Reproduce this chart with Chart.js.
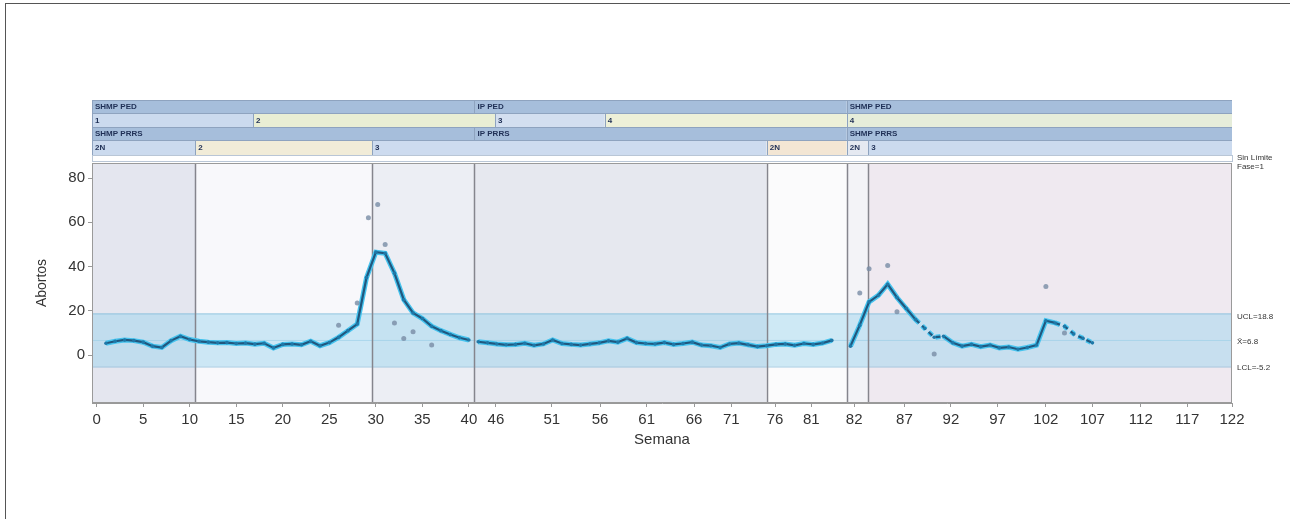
<!DOCTYPE html>
<html>
<head>
<meta charset="utf-8">
<script src="https://cdn.jsdelivr.net/npm/chart.js@4.4.1/dist/chart.umd.min.js"></script>
<style>
html, body { margin: 0; padding: 0; background: #fff; }
#wrap { position: absolute; left: 0; top: 0; width: 1290px; height: 519px; overflow: hidden; }
#frame { position: absolute; left: 5px; top: 3px; width: 1300px; height: 530px; border-top: 1px solid #555; border-left: 1px solid #555; }
</style>
</head>
<body>
<div id="wrap">
  <canvas id="myChart" width="1290" height="519"></canvas>
  <div id="frame"></div>
</div>
<script>
// data (x = plotted week position, y = abortos)
var phase1Start = 1;
var phase1 = [5.3,6.2,6.8,6.5,5.8,4.0,3.4,6.5,8.5,7.0,6.2,5.8,5.5,5.6,5.2,5.4,4.9,5.3,3.2,4.8,
              5.0,4.6,6.2,4.2,5.6,8.0,11.0,14.0,35.0,46.5,46.0,37.0,25.0,19.0,16.5,13.0,11.0,9.3,7.8,6.8];
var phase2Start = 41;
var phase2 = [6.0,5.5,5.0,4.6,4.8,5.3,4.4,5.0,6.8,5.2,4.8,4.5,5.0,5.5,6.4,5.8,7.5,5.6,5.2,5.0,
              5.6,4.8,5.2,5.8,4.5,4.2,3.4,5.0,5.4,4.6,3.8,4.2,4.8,5.0,4.4,5.2,4.8,5.4,6.6];
var phase3Start = 81;
var phase3 = [4.0,13.5,24.0,27.0,32.0,26.0,21.0,16.0,12.0,8.0,8.5,5.5,4.0,4.8,3.8,4.5,3.2,3.6,2.6,3.4,
              4.5,15.5,14.5,13.0,9.5,7.5,5.5];
var outlierX = [26,28,29.2,30.2,31,32,33,34,36,82,83,85,86,90,102,104];
var outlierY = [13.5,23.5,62,68,50,14.5,7.5,10.5,4.5,28,39,40.5,19.5,0.5,31,10];

var ucl = 18.8, avg = 6.8, lcl = -5.2;
var yMin = -21.7, yMax = 86.8;
var yTicks = [0,20,40,60,80];
var xMin = -0.5, xMax = 122;
var xTickPos = [0,5,10,15,20,25,30,35,40,42.9,48.9,54.1,59.1,64.2,68.2,72.9,76.8,81.4,86.8,91.8,96.8,102,107,112.2,117.2,122];
var xTickLabels = ['0','5','10','15','20','25','30','35','40','46','51','56','61','66','71','76','81','82','87','92','97','102','107','112','117','122'];

// phase changes (x positions) and header labels
var changePos = [10.6,29.6,40.6,72,80.6,82.9];
var row1Labels = ['SHMP PED','IP PED','SHMP PED'];
var row3Labels = ['SHMP PRRS','IP PRRS','SHMP PRRS'];
var mainStarts = [-0.5,40.6,80.6];
var row2Labels = ['1','2','3','4','4'];
var row2Starts = [-0.5,16.8,42.8,54.6,80.6];
var row4Labels = ['2N','2','3','2N','2N','3'];
var row4Starts = [-0.5,10.6,29.6,72,80.6,82.9];
var limitLabels = ['UCL=18.8','X\u0304=6.8','LCL=-5.2'];
var cornerLabels = ['Sin L\u00edmite','Fase=1'];

function toPoints(start, vals) {
  return vals.map(function(v, i) { return { x: start + i, y: v }; });
}
function buildLine() {
  return toPoints(phase1Start, phase1)
    .concat([{ x: 40.6, y: null }], toPoints(phase2Start, phase2))
    .concat([{ x: 80.5, y: null }], toPoints(phase3Start, phase3));
}
var outlierData = outlierX.map(function(x, i) { return { x: x, y: outlierY[i] }; });

function dashed(ctx) {
  var x = ctx.p0.parsed.x;
  return ((x >= 88 && x < 91) || (x >= 103 && x < 107)) ? [5, 4] : undefined;
}

var decor = {
  id: 'decor',
  beforeDatasetsDraw: function(chart) {
    var c = chart.ctx, a = chart.chartArea, xs = chart.scales.x, ys = chart.scales.y;
    var bgCols = ['#e4e6ef','#f8f8fb','#eceef4','#e6e8ef','#fbfbfc','#f3f3f7','#efe9f0'];
    var edges = [xMin].concat(changePos, [xMax]);
    c.save();
    for (var i = 0; i < edges.length - 1; i++) {
      var x0 = xs.getPixelForValue(edges[i]), x1 = xs.getPixelForValue(edges[i + 1]);
      c.fillStyle = bgCols[i];
      c.fillRect(x0, a.top, x1 - x0, a.bottom - a.top);
    }
    var yu = ys.getPixelForValue(ucl), yl = ys.getPixelForValue(lcl), ya = ys.getPixelForValue(avg);
    c.fillStyle = 'rgba(150,210,238,0.45)';
    c.fillRect(a.left, yu, a.right - a.left, yl - yu);
    c.strokeStyle = 'rgba(110,175,210,0.6)';
    c.lineWidth = 1;
    [yu, yl].forEach(function(y) {
      c.beginPath(); c.moveTo(a.left, y + 0.5); c.lineTo(a.right, y + 0.5); c.stroke();
    });
    c.strokeStyle = 'rgba(150,205,230,0.6)';
    c.beginPath(); c.moveTo(a.left, ya + 0.5); c.lineTo(a.right, ya + 0.5); c.stroke();
    c.strokeStyle = '#85858d';
    c.lineWidth = 1.5;
    changePos.forEach(function(p) {
      var x = Math.round(xs.getPixelForValue(p)) + 0.5;
      c.beginPath(); c.moveTo(x, a.top); c.lineTo(x, a.bottom); c.stroke();
    });
    c.restore();
  },
  afterDraw: function(chart) {
    var c = chart.ctx, a = chart.chartArea, xs = chart.scales.x, ys = chart.scales.y;
    var right = a.right;
    c.save();
    // header rows
    var rows = [
      { top: a.top - 63, h: 13, starts: mainStarts, labels: row1Labels, cols: ['#a6bedb','#a6bedb','#a6bedb'] },
      { top: a.top - 50, h: 14, starts: row2Starts, labels: row2Labels, cols: ['#cbdaee','#e9eed4','#d3dff0','#edf0d8','#e6edda'] },
      { top: a.top - 36, h: 13, starts: mainStarts, labels: row3Labels, cols: ['#a6bedb','#a6bedb','#a6bedb'] },
      { top: a.top - 23, h: 15, starts: row4Starts, labels: row4Labels, cols: ['#cbdaee','#f1ecd8','#cddbef','#f3e6d4','#e5e9f1','#cbdaee'] }
    ];
    c.font = 'bold 8px "Liberation Sans", Arial, sans-serif';
    c.textBaseline = 'middle';
    c.textAlign = 'left';
    rows.forEach(function(r) {
      for (var i = 0; i < r.starts.length; i++) {
        var x0 = xs.getPixelForValue(r.starts[i]);
        var x1 = i + 1 < r.starts.length ? xs.getPixelForValue(r.starts[i + 1]) : right;
        c.fillStyle = r.cols[i];
        c.fillRect(x0, r.top, x1 - x0, r.h);
        c.strokeStyle = '#8ea3bf';
        c.lineWidth = 1;
        c.beginPath(); c.moveTo(Math.round(x0) + 0.5, r.top); c.lineTo(Math.round(x0) + 0.5, r.top + r.h); c.stroke();
        c.fillStyle = '#1f2f55';
        c.fillText(r.labels[i], x0 + 3, r.top + r.h / 2 + 0.5);
      }
      c.strokeStyle = '#8ea3bf';
      c.beginPath(); c.moveTo(a.left, r.top + 0.5); c.lineTo(right, r.top + 0.5); c.stroke();
    });
    c.strokeStyle = '#b9c6d6';
    c.strokeRect(a.left + 0.5, a.top - 8 + 0.5, right - a.left, 6);
    // right-side labels
    c.font = '8px "Liberation Sans", Arial, sans-serif';
    c.fillStyle = '#333';
    c.fillText(cornerLabels[0], right + 5, a.top - 5);
    c.fillText(cornerLabels[1], right + 5, a.top + 4);
    c.fillText(limitLabels[0], right + 5, ys.getPixelForValue(ucl) + 3);
    c.fillText(limitLabels[1], right + 5, ys.getPixelForValue(avg) + 2);
    c.fillText(limitLabels[2], right + 5, ys.getPixelForValue(lcl) + 1);
    // plot border
    c.strokeStyle = '#9a9a9a';
    c.lineWidth = 1;
    c.strokeRect(a.left + 0.5, a.top + 0.5, a.right - a.left - 1, a.bottom - a.top - 1);
    c.restore();
  }
};

var ctx = document.getElementById('myChart').getContext('2d');
var myChart = new Chart(ctx, {
  type: 'line',
  data: {
    datasets: [
      {
        data: buildLine(),
        order: 3,
        borderColor: '#45c3ee',
        borderWidth: 5,
        pointRadius: 0,
        spanGaps: false,
        tension: 0,
        segment: { borderDash: dashed }
      },
      {
        data: buildLine(),
        order: 2,
        borderColor: '#21577e',
        borderWidth: 2.2,
        pointRadius: 1.8,
        pointBackgroundColor: '#1e78a8',
        pointBorderWidth: 0,
        spanGaps: false,
        tension: 0,
        segment: { borderDash: dashed }
      },
      {
        type: 'scatter',
        data: outlierData,
        order: 1,
        pointRadius: 2.5,
        pointBackgroundColor: 'rgba(120,140,165,0.8)',
        pointBorderWidth: 0,
        showLine: false
      }
    ]
  },
  options: {
    responsive: false,
    animation: false,
    layout: { padding: { left: 30, right: 58, top: 163, bottom: 66 } },
    plugins: { legend: { display: false }, tooltip: { enabled: false } },
    scales: {
      x: {
        type: 'linear',
        min: xMin,
        max: xMax,
        afterBuildTicks: function(axis) { axis.ticks = xTickPos.map(function(v) { return { value: v }; }); },
        afterFit: function(axis) { axis.height = 50; },
        ticks: {
          autoSkip: false,
          maxRotation: 0,
          padding: 4,
          color: '#333',
          font: { family: '"Liberation Sans", Arial, sans-serif', size: 15 },
          callback: function(value, index) { return xTickLabels[index]; }
        },
        grid: { drawOnChartArea: false, tickLength: 4, color: '#999' },
        border: { color: '#999' },
        title: { display: true, text: 'Semana', color: '#333', font: { family: '"Liberation Sans", Arial, sans-serif', size: 15 } }
      },
      y: {
        min: yMin,
        max: yMax,
        afterBuildTicks: function(axis) { axis.ticks = yTicks.map(function(v) { return { value: v }; }); },
        afterFit: function(axis) { axis.width = 62; },
        ticks: {
          padding: 3,
          color: '#333',
          font: { family: '"Liberation Sans", Arial, sans-serif', size: 15 }
        },
        grid: { drawOnChartArea: false, tickLength: 4, color: '#999' },
        border: { color: '#999' },
        title: { display: true, text: 'Abortos', color: '#333', font: { family: '"Liberation Sans", Arial, sans-serif', size: 14 } }
      }
    }
  },
  plugins: [decor]
});
</script>
</body>
</html>
